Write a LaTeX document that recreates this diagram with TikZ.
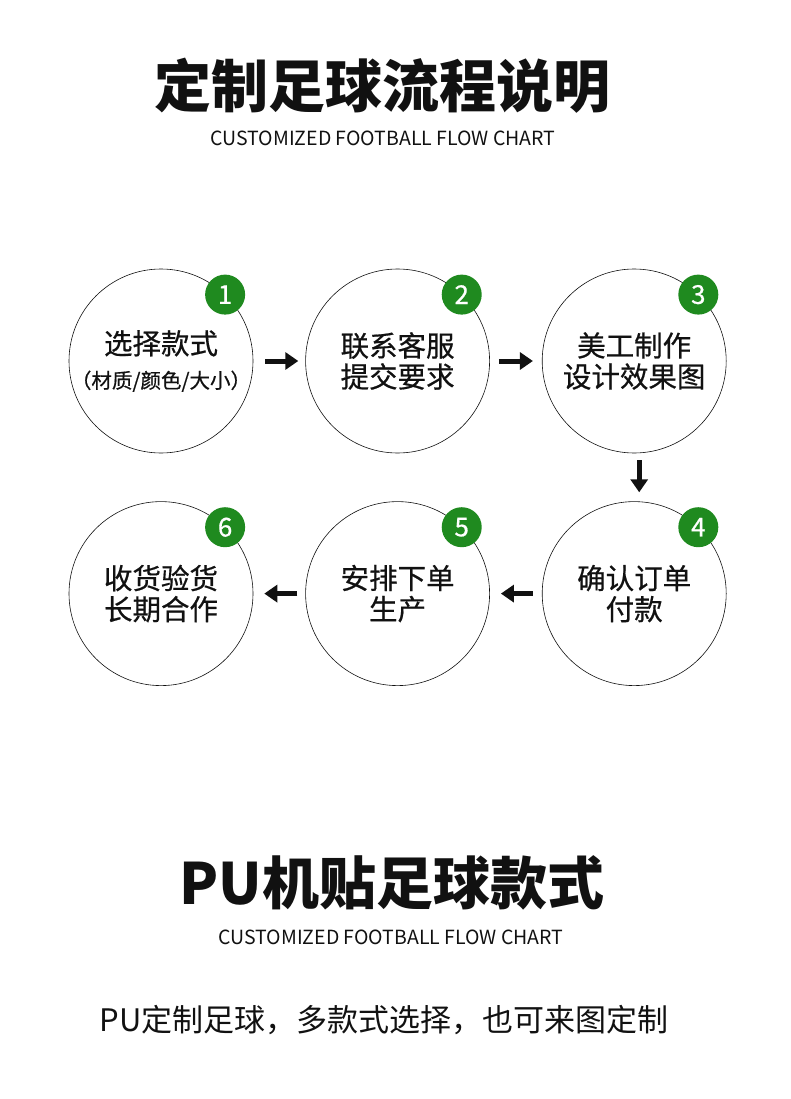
\documentclass[tikz,border=0pt]{standalone}
\usepackage{fontspec}
\setmainfont{Noto Sans CJK SC}
\newfontfamily\midfont{Noto Sans CJK SC}[FakeBold=0.6]
\usepackage{tikz}
\usetikzlibrary{arrows.meta, positioning}
\definecolor{badgecolor}{RGB}{31, 138, 31}
\definecolor{inkcolor}{RGB}{17, 17, 17}

\tikzset{
    stepcircle/.style={draw=inkcolor, line width=0.6pt, circle, minimum size=184pt, inner sep=0pt, align=center, text=inkcolor, font=\midfont\fontsize{28.5}{31}\selectfont},
    badge/.style={circle, fill=badgecolor, text=white, minimum size=40pt, inner sep=0pt, font=\midfont\fontsize{26}{26}\selectfont},
    flow/.style={-{Triangle[length=13pt, width=17pt]}, line width=5pt, draw=inkcolor},
    entitle/.style={text=inkcolor, font=\fontsize{19.5}{19.5}\selectfont}
}

\begin{document}
\begin{tikzpicture}[x=1pt, y=-1pt]
\useasboundingbox (0,0) rectangle (790,1099);

% heading
\node[text=inkcolor, font=\fontsize{57}{57}\selectfont\bfseries] (title) at (382,86) {定制足球流程说明};
\node[entitle] (subtitle) at (383,138) {CUSTOMIZED FOOTBALL FLOW CHART};

% steps
\node[stepcircle, inner sep=-12pt] (c1) at (161,361) {选择款式\\[3pt]{\fontsize{20.5}{20.5}\selectfont （材质/颜色/大小）}};
\node[stepcircle, right=52pt of c1] (c2) {联系客服\\提交要求};
\node[stepcircle, right=52pt of c2] (c3) {美工制作\\设计效果图};
\node[stepcircle, below=48pt of c3] (c4) {确认订单\\付款};
\node[stepcircle, left=52pt of c4] (c5) {安排下单\\生产};
\node[stepcircle, left=52pt of c5] (c6) {收货验货\\长期合作};

% numbers
\node[badge] (b1) at (c1.46) {1};
\node[badge] (b2) at (c2.46) {2};
\node[badge] (b3) at (c3.46) {3};
\node[badge] (b4) at (c4.46) {4};
\node[badge] (b5) at (c5.46) {5};
\node[badge] (b6) at (c6.46) {6};

% arrows
\draw[flow, shorten <=12pt, shorten >=7pt] (c1) -- (c2);
\draw[flow, shorten <=9pt, shorten >=9pt] (c2) -- (c3);
\draw[flow, shorten <=7pt, shorten >=9pt] ([xshift=5pt]c3.south) -- ([xshift=5pt]c4.north);
\draw[flow, shorten <=9pt, shorten >=11pt] (c4) -- (c5);
\draw[flow, shorten <=8pt, shorten >=11pt] (c5) -- (c6);

% styles
\node[text=inkcolor, font=\fontsize{57}{57}\selectfont\bfseries] (title2) at (392,883) {PU机贴足球款式};
\node[entitle] (subtitle2) at (391,937) {CUSTOMIZED FOOTBALL FLOW CHART};
\node[text=inkcolor, font=\fontsize{31}{31}\selectfont] (slogan) at (384,1020) {PU定制足球，多款式选择，也可来图定制};
\end{tikzpicture}
\end{document}
